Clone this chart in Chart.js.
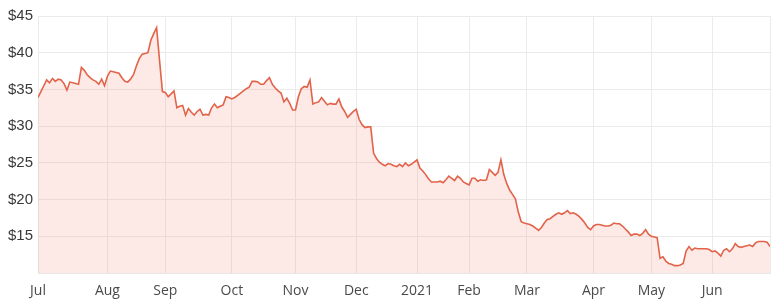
<!DOCTYPE html>
<html>
<head>
<meta charset="utf-8">
<script src="https://cdn.jsdelivr.net/npm/chart.js@4"></script>
<style>
  html, body { margin: 0; padding: 0; background: #ffffff; }
  #wrap { width: 780px; height: 304px; position: relative; }
</style>
</head>
<body>
<div id="wrap"><canvas id="c"></canvas></div>
<script>
// Month tick positions (trading-day index) and their labels
const monthLabels = ['Jul', 'Aug', 'Sep', 'Oct', 'Nov', 'Dec', '2021', 'Feb', 'Mar', 'Apr', 'May', 'Jun'];
const monthStarts = [0, 24, 44, 67, 89, 110, 131, 149, 169, 192, 212, 233];

// Daily closing prices (USD), Jul 2020 - Jun 2021
const prices = [
  33.9, 34.7, 35.5, 36.3, 35.9, 36.5, 36.1, 36.4, 36.3, 35.8,
  34.9, 36.0, 35.9, 35.8, 35.7, 38.0, 37.6, 37.0, 36.6, 36.3,
  36.1, 35.7, 36.4, 35.5, 36.8, 37.5, 37.4, 37.3, 37.2, 36.6,
  36.1, 36.0, 36.4, 37.0, 38.2, 39.2, 39.8, 39.9, 40.0, 41.7,
  42.6, 43.4, 39.0, 34.7, 34.6, 34.0, 34.4, 34.8, 32.5, 32.7,
  32.8, 31.5, 32.4, 31.9, 31.5, 32.0, 32.3, 31.5, 31.6, 31.5,
  32.5, 33.0, 32.5, 32.7, 32.9, 34.0, 33.9, 33.7, 33.9, 34.2,
  34.5, 34.8, 35.1, 35.3, 36.1, 36.1, 36.0, 35.7, 35.7, 36.2,
  36.6, 35.7, 35.2, 34.8, 34.5, 33.3, 33.8, 33.1, 32.2, 32.2,
  34.0, 35.1, 35.4, 35.3, 36.3, 33.0, 33.2, 33.3, 33.9, 33.4,
  32.9, 33.1, 33.0, 33.0, 33.7, 32.6, 32.0, 31.2, 31.6, 32.0,
  32.3, 30.9, 30.2, 29.8, 29.9, 29.9, 26.3, 25.6, 25.1, 24.8,
  24.6, 24.9, 24.8, 24.6, 24.5, 24.8, 24.5, 25.0, 24.6, 24.8,
  25.1, 25.4, 24.3, 23.9, 23.4, 22.8, 22.4, 22.4, 22.4, 22.5,
  22.3, 22.7, 23.2, 22.9, 22.6, 23.2, 22.9, 22.4, 22.2, 22.0,
  22.9, 22.9, 22.5, 22.7, 22.6, 22.7, 24.1, 23.7, 23.3, 23.7,
  25.4, 23.4, 22.2, 21.3, 20.7, 20.1, 18.3, 17.0, 16.8, 16.7,
  16.6, 16.4, 16.1, 15.8, 16.2, 16.8, 17.3, 17.4, 17.7, 18.0,
  18.2, 18.0, 18.2, 18.5, 18.1, 18.2, 18.0, 17.7, 17.3, 16.8,
  16.2, 15.9, 16.4, 16.6, 16.6, 16.5, 16.4, 16.4, 16.5, 16.8,
  16.7, 16.7, 16.4, 16.0, 15.6, 15.1, 15.3, 15.3, 15.1, 15.4,
  15.9, 15.3, 15.0, 14.9, 14.8, 12.0, 12.2, 11.6, 11.3, 11.2,
  11.0, 11.0, 11.1, 11.3, 13.0, 13.6, 13.1, 13.4, 13.3, 13.3,
  13.3, 13.3, 13.2, 12.9, 13.0, 12.7, 12.3, 13.1, 13.3, 12.9,
  13.3, 14.0, 13.6, 13.5, 13.6, 13.7, 13.8, 13.6, 14.1, 14.3,
  14.3, 14.3, 14.2, 13.6
];

// Y axis tick labels
const yTicks = [10, 15, 20, 25, 30, 35, 40, 45];
const yTickLabels = ['', '$15', '$20', '$25', '$30', '$35', '$40', '$45'];

const lastIndex = prices.length - 1;
const points = prices.map((p, i) => ({ x: i, y: p }));

new Chart(document.getElementById('c'), {
  type: 'line',
  data: {
    datasets: [{
      data: points,
      borderColor: '#e2634a',
      borderWidth: 1.6,
      backgroundColor: 'rgba(240, 112, 84, 0.15)',
      fill: 'start',
      pointRadius: 0,
      tension: 0
    }]
  },
  options: {
    responsive: true,
    maintainAspectRatio: false,
    animation: false,
    layout: { padding: { top: 16, right: 9, bottom: 0, left: 0 } },
    plugins: { legend: { display: false }, tooltip: { enabled: false } },
    scales: {
      x: {
        type: 'linear',
        min: 0,
        max: lastIndex,
        afterBuildTicks: (scale) => {
          scale.ticks = monthStarts.map(v => ({ value: v })).concat([{ value: lastIndex }]);
        },
        afterFit: (scale) => { scale.height = 31; },
        grid: { color: '#ebebeb', drawTicks: false },
        border: { color: '#e6e6e6' },
        ticks: {
          autoSkip: false,
          maxRotation: 0,
          padding: 10,
          color: '#4a4a4a',
          font: { family: 'Open Sans', size: 14 },
          callback: (v) => {
            const k = monthStarts.indexOf(v);
            return k >= 0 ? monthLabels[k] : '';
          }
        }
      },
      y: {
        min: 10,
        max: 45,
        afterBuildTicks: (scale) => {
          scale.ticks = yTicks.map(v => ({ value: v }));
        },
        afterFit: (scale) => { scale.width = 38; },
        grid: { color: '#ebebeb', drawTicks: false },
        border: { display: false },
        ticks: {
          padding: 5,
          color: '#3a3a3a',
          font: { family: 'Liberation Sans', size: 15 },
          callback: (v) => {
            const k = yTicks.indexOf(v);
            return k >= 0 ? yTickLabels[k] : '';
          }
        }
      }
    }
  }
});
</script>
</body>
</html>
